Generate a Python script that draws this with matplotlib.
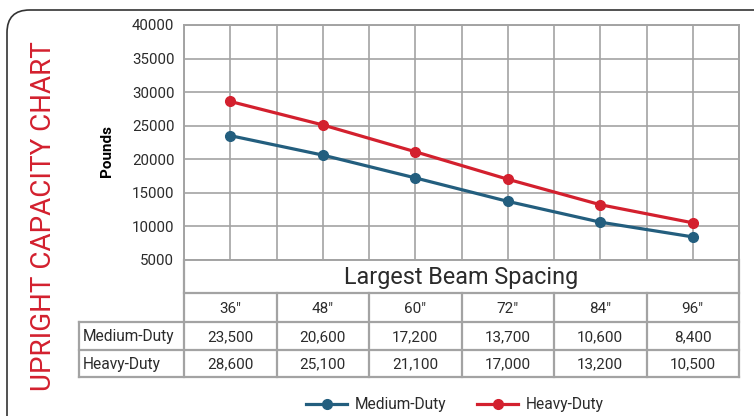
import matplotlib
matplotlib.use("Agg")
import matplotlib.pyplot as plt
from matplotlib.patches import FancyBboxPatch

# === Data ===
spacings = ['36″', '48″', '60″', '72″', '84″', '96″']
medium_duty = [23500, 20600, 17200, 13700, 10600, 8400]
heavy_duty = [28600, 25100, 21100, 17000, 13200, 10500]
series_names = ['Medium-Duty', 'Heavy-Duty']
y_ticks = [5000, 10000, 15000, 20000, 25000, 30000, 35000, 40000]

blue = '#235e7e'
red = '#d3202e'
grid_c = '#a3a3a3'
text_c = '#2b2b2b'

plt.rcParams['font.family'] = ['Roboto', 'DejaVu Sans']

W, H = 754, 416
fig = plt.figure(figsize=(W / 100, H / 100), dpi=100)

def px_box(x0, y0, x1, y1):
    return [x0 / W, 1 - y1 / H, (x1 - x0) / W, (y1 - y0) / H]

# === Outer rounded frame ===
frame = FancyBboxPatch((7 / W, -0.2), 1.2, 1.2 - 10 / H,
                       boxstyle="round,pad=0,rounding_size=0.03",
                       transform=fig.transFigure, fill=False,
                       edgecolor='#333333', linewidth=1.2,
                       mutation_aspect=W / H)
fig.patches.append(frame)

# === Main chart ===
ax = fig.add_axes(px_box(184, 25, 739, 259.7))
xs = [i + 0.5 for i in range(len(spacings))]
ax.plot(xs, medium_duty, color=blue, lw=2.3, marker='o', ms=7,
        label=series_names[0], zorder=3)
ax.plot(xs, heavy_duty, color=red, lw=2.3, marker='o', ms=7,
        label=series_names[1], zorder=3)
ax.set_xlim(0, len(spacings))
ax.set_ylim(y_ticks[0], y_ticks[-1])
ax.set_xticks([i * 0.5 for i in range(2 * len(spacings) + 1)])
ax.set_xticklabels([])
ax.set_yticks(y_ticks)
ax.set_yticklabels([str(v) for v in y_ticks], fontsize=10.8, color=text_c)
ax.tick_params(length=0, pad=7)
ax.grid(True, color=grid_c, lw=1.2)
ax.set_axisbelow(True)
for s in ax.spines.values():
    s.set_color(grid_c)
    s.set_linewidth(1.4)

fig.text(107 / W, 1 - 151 / H, 'Pounds', rotation=90, ha='center',
         va='center', fontsize=11, fontweight='bold', color='black')

# === Table below the chart ===
tab = fig.add_axes(px_box(184, 259.7, 739, 377))
tab.set_xlim(0, len(spacings))
tab.set_ylim(117.3, 0)
tab.axis('off')
rows = [0, 33.6, 62.3, 90.3, 117.3]
lab_left = -105 / 92.5
lk = dict(color=grid_c, lw=1.6, clip_on=False)

tab.plot([0, 0], [rows[0], rows[4]], **lk)
tab.plot([6, 6], [rows[0], rows[4]], **lk)
tab.plot([0, 6], [rows[1], rows[1]], **lk)
tab.plot([lab_left, 6], [rows[2], rows[2]], **lk)
tab.plot([lab_left, 6], [rows[3], rows[3]], **lk)
tab.plot([lab_left, 6], [rows[4], rows[4]], **lk)
tab.plot([lab_left, lab_left], [rows[2], rows[4]], **lk)
for i in range(1, len(spacings)):
    tab.plot([i, i], [rows[1], rows[4]], **lk)

tab.text(3, (rows[0] + rows[1]) / 2 + 1, 'Largest Beam Spacing',
         ha='center', va='center', fontsize=16.8, color=text_c)
for i, lab in enumerate(spacings):
    tab.text(i + 0.5, (rows[1] + rows[2]) / 2 + 1, lab, ha='center',
             va='center', fontsize=11, color=text_c)
    tab.text(i + 0.5, (rows[2] + rows[3]) / 2 + 1, f'{medium_duty[i]:,}',
             ha='center', va='center', fontsize=11, color=text_c)
    tab.text(i + 0.5, (rows[3] + rows[4]) / 2 + 1, f'{heavy_duty[i]:,}',
             ha='center', va='center', fontsize=11, color=text_c)
for r, name in zip([2, 3], series_names):
    tab.text(lab_left + 0.045, (rows[r] + rows[r + 1]) / 2 + 1, name,
             ha='left', va='center', fontsize=11.2, color=text_c, clip_on=False)

# === Title ===
fig.text(44 / W, 1 - 216 / H, 'UPRIGHT CAPACITY CHART', rotation=90,
         ha='center', va='center', fontsize=20, color=red)

# === Legend ===
fig.legend(loc='center', bbox_to_anchor=(455 / W, 1 - 405 / H), ncol=2,
           frameon=False, fontsize=11.2, labelcolor=text_c,
           handlelength=2.6, columnspacing=2.0, handletextpad=0.5)

fig.savefig('out.png', dpi=100)
